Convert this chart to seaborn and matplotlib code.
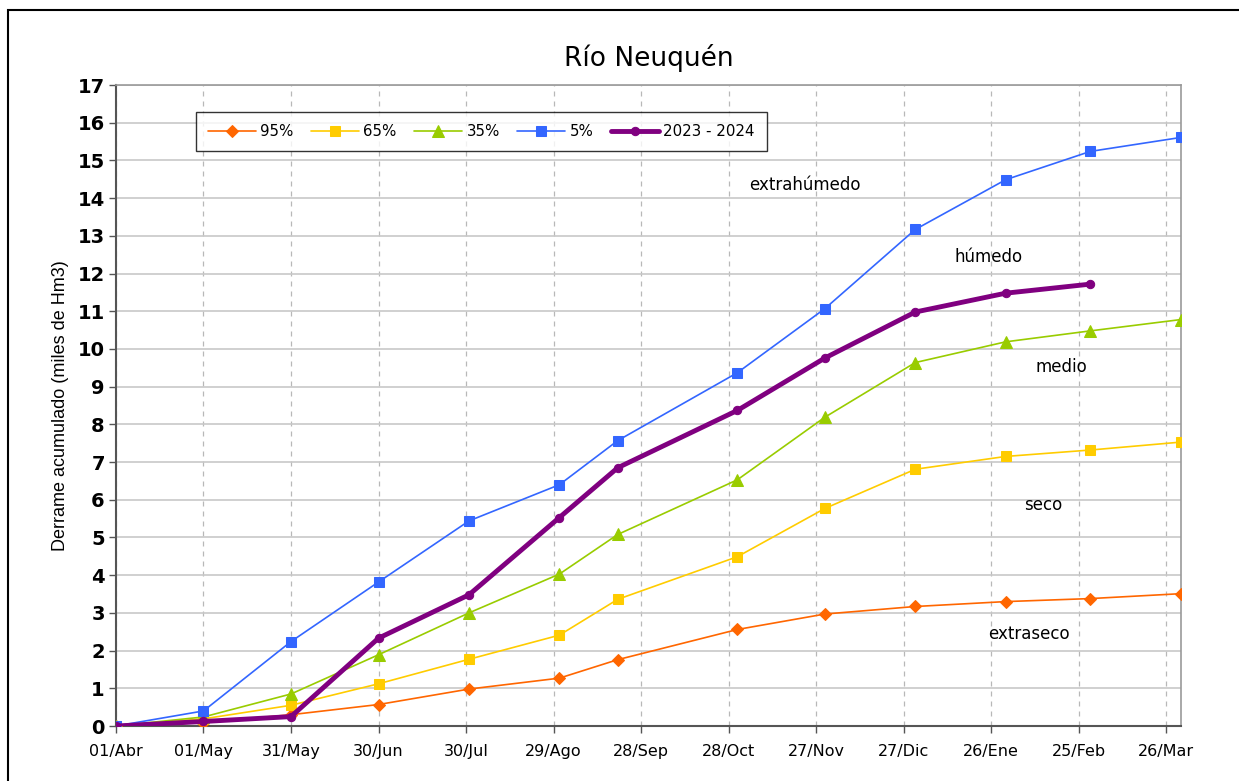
import matplotlib
matplotlib.use("Agg")
import matplotlib.pyplot as plt
import seaborn as sns
import pandas as pd
from matplotlib.patches import Rectangle

# Days elapsed since 01/Abr for each cumulative reading
days = [0, 30, 60, 90, 121, 152, 172, 213, 243, 274, 305, 334, 365]

p95 = [0, 0.09, 0.30, 0.57, 0.98, 1.27, 1.76, 2.56, 2.97, 3.17, 3.30, 3.38, 3.51]
p65 = [0, 0.19, 0.55, 1.12, 1.77, 2.41, 3.36, 4.49, 5.77, 6.81, 7.15, 7.32, 7.53]
p35 = [0, 0.24, 0.85, 1.89, 3.00, 4.03, 5.08, 6.53, 8.19, 9.64, 10.19, 10.48, 10.78]
p05 = [0, 0.40, 2.24, 3.82, 5.44, 6.40, 7.57, 9.37, 11.07, 13.17, 14.49, 15.24, 15.61]
season = [0, 0.12, 0.25, 2.33, 3.48, 5.53, 6.85, 8.37, 9.76, 10.98, 11.48, 11.72]

tick_days = [0, 30, 60, 90, 120, 150, 180, 210, 240, 270, 300, 330, 360]
tick_labels = ["01/Abr", "01/May", "31/May", "30/Jun", "30/Jul", "29/Ago", "28/Sep",
               "28/Oct", "27/Nov", "27/Dic", "26/Ene", "25/Feb", "26/Mar"]

zone_labels = ["extrahúmedo", "húmedo", "medio", "seco", "extraseco"]
zone_pos = [(236, 14.36), (299, 12.45), (324, 9.52), (318, 5.86), (313, 2.43)]

sns.set_theme(style="white")
plt.rcParams["font.family"] = ["DejaVu Sans"]
plt.rcParams["text.color"] = "black"
plt.rcParams["axes.labelcolor"] = "black"
plt.rcParams["xtick.color"] = "black"
plt.rcParams["ytick.color"] = "black"

fig = plt.figure(figsize=(12.39, 7.81), dpi=100)
ax = fig.add_axes([0.0936, 0.0704, 0.8594, 0.8207])

series = [
    ("95%", p95, "#FF6600", "D", 6, 1.2),
    ("65%", p65, "#FFCC00", "s", 6.5, 1.2),
    ("35%", p35, "#99CC00", "^", 8, 1.2),
    ("5%", p05, "#3366FF", "s", 7, 1.2),
]
for name, vals, color, mk, ms, lw in series:
    df = pd.DataFrame({"dia": days, "derrame": vals})
    sns.lineplot(data=df, x="dia", y="derrame", ax=ax, color=color, marker=mk,
                 markersize=ms, markeredgecolor=color, linewidth=lw, label=name,
                 zorder=3)

df_s = pd.DataFrame({"dia": days[:len(season)], "derrame": season})
sns.lineplot(data=df_s, x="dia", y="derrame", ax=ax, color="#800080", marker="o",
             markersize=6, markeredgecolor="#800080", linewidth=3.5,
             label="2023 - 2024", zorder=4)

ax.set_xlim(0, 365)
ax.set_ylim(0, 17)
ax.set_xticks(tick_days)
ax.set_xticklabels(tick_labels, fontsize=11.5)
ax.set_yticks(range(0, 18))
ax.set_yticklabels([str(v) for v in range(0, 18)], fontsize=14, fontweight="bold")
ax.tick_params(axis="both", direction="out", length=5, width=1, color="#555555",
               bottom=True, left=True, pad=3)
ax.tick_params(axis="x", pad=8)

ax.grid(axis="y", color="#c8c8c8", linewidth=1.2, linestyle="-", zorder=0)
ax.grid(axis="x", color="#b8b8b8", linewidth=0.9, linestyle=(0, (4, 4)), zorder=0)
ax.set_axisbelow(True)

for side in ["top", "right"]:
    ax.spines[side].set_color("#999999")
    ax.spines[side].set_linewidth(1.2)
for side in ["left", "bottom"]:
    ax.spines[side].set_color("#555555")
    ax.spines[side].set_linewidth(1.5)

ax.set_xlabel("")
ax.set_ylabel("Derrame acumulado (miles de Hm3)", fontsize=13,
              family="Liberation Sans", labelpad=6)
ax.set_title("Río Neuquén", fontsize=19, pad=14)

for txt, (xd, yd) in zip(zone_labels, zone_pos):
    ax.text(xd, yd, txt, fontsize=12, ha="center", va="center", color="black")

leg = ax.legend(loc="upper left", bbox_to_anchor=(0.075, 0.958), borderaxespad=0,
                ncol=5, frameon=True, fancybox=False, fontsize=10.8,
                handlelength=3.2, columnspacing=1.15, borderpad=0.8,
                handletextpad=0.3)
leg.get_frame().set_edgecolor("black")
leg.get_frame().set_linewidth(1.0)

# outer chart border
fig.patches.append(Rectangle((8 / 1239, -0.05), 1.1, (781 - 10) / 781 + 0.05,
                             transform=fig.transFigure, fill=False,
                             edgecolor="black", linewidth=1.5))

fig.savefig("out.png", dpi=100)
